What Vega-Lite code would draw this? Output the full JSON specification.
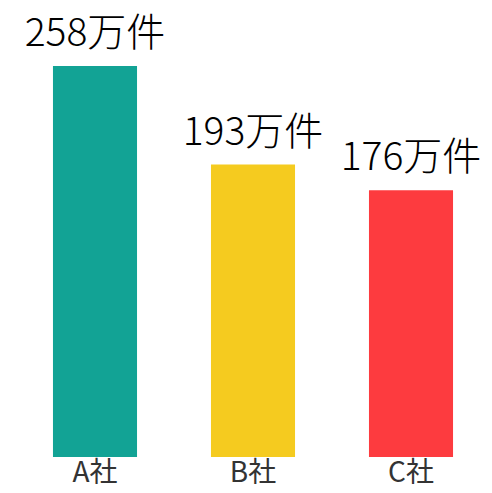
{
  "$schema": "https://vega.github.io/schema/vega-lite/v6.json",
  "width": 474,
  "height": 457,
  "autosize": {"type": "none"},
  "padding": {"left": 16, "top": 0, "right": 2, "bottom": 36},
  "background": "white",
  "config": {"view": {"stroke": null}, "font": "Noto Sans CJK JP"},
  "data": {"values": [
    {"company": "A社", "value": 258, "label": "258万件"},
    {"company": "B社", "value": 193, "label": "193万件"},
    {"company": "C社", "value": 176, "label": "176万件"}
  ]},
  "encoding": {
    "x": {"field": "company", "type": "nominal", "sort": null,
      "scale": {"paddingInner": 0.468, "paddingOuter": 0.234},
      "axis": {"title": null, "domain": false, "ticks": false, "labelAngle": 0, "labelFontSize": 28, "labelFontWeight": 400, "labelColor": "#333333", "labelPadding": 2, "labelFont": "Noto Sans CJK JP"}},
    "y": {"field": "value", "type": "quantitative", "scale": {"domain": [0, 301.6], "nice": false}, "axis": null}
  },
  "layer": [
    {"mark": {"type": "bar"},
     "encoding": {"color": {"field": "company", "type": "nominal", "legend": null,
       "scale": {"domain": ["A社", "B社", "C社"], "range": ["#12a395", "#f5cb1f", "#fd3b3f"]}}}},
    {"mark": {"type": "text", "dy": -20, "baseline": "alphabetic", "align": "center", "fontSize": 39, "fontWeight": 300, "color": "#000000", "font": "Noto Sans CJK JP"},
     "encoding": {"text": {"field": "label"}}}
  ]
}
